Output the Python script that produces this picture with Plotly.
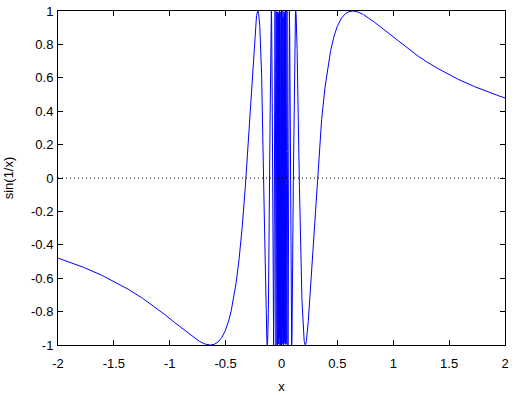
import numpy as np
import plotly.graph_objects as go

# Chart definition: the plotted function y = sin(1/x), sampled on [-2, 2]
x_range = [-2, 2]
n_samples = 10000
x_vals = np.linspace(x_range[0], x_range[1], n_samples)
y_vals = np.sin(1.0 / x_vals)

x_tick_vals = [-2, -1.5, -1, -0.5, 0, 0.5, 1, 1.5, 2]
x_tick_text = ["-2", "-1.5", "-1", "-0.5", "0", "0.5", "1", "1.5", "2"]
y_tick_vals = [-1, -0.8, -0.6, -0.4, -0.2, 0, 0.2, 0.4, 0.6, 0.8, 1]
y_tick_text = ["-1", "-0.8", "-0.6", "-0.4", "-0.2", "0", "0.2", "0.4", "0.6", "0.8", "1"]

fig = go.Figure()
fig.add_trace(go.Scatter(x=x_vals, y=y_vals, mode="lines",
                         line=dict(color="#0000ff", width=1), showlegend=False,
                         hoverinfo="skip"))

fig.add_shape(type="line", xref="paper", yref="y", x0=0, x1=1, y0=0, y1=0,
              line=dict(color="black", width=1, dash="1px,3px"))

font = dict(family="Liberation Sans, Arial, sans-serif", size=13, color="black")
axis_common = dict(showline=True, linecolor="black", linewidth=1, mirror="ticks",
                   ticks="inside", ticklen=5, tickcolor="black", tickwidth=1,
                   showgrid=False, zeroline=False, tickfont=font)

fig.update_layout(
    width=517, height=395,
    margin=dict(l=58, r=12, t=11, b=50, autoexpand=False),
    paper_bgcolor="white", plot_bgcolor="white",
    font=font,
    xaxis=dict(range=x_range, tickvals=x_tick_vals, ticktext=x_tick_text,
               ticklabelstandoff=6,
               title=dict(text="x", font=font, standoff=12), automargin=False,
               **axis_common),
    yaxis=dict(range=[-1, 1], tickvals=y_tick_vals, ticktext=y_tick_text,
               ticklabelstandoff=1,
               title=dict(text="sin(1/x)", font=font, standoff=14), automargin=False,
               **axis_common),
)

fig.write_html("out.html", config={"displayModeBar": False},
               post_script="document.body.style.margin='0';document.body.style.overflow='hidden';")
